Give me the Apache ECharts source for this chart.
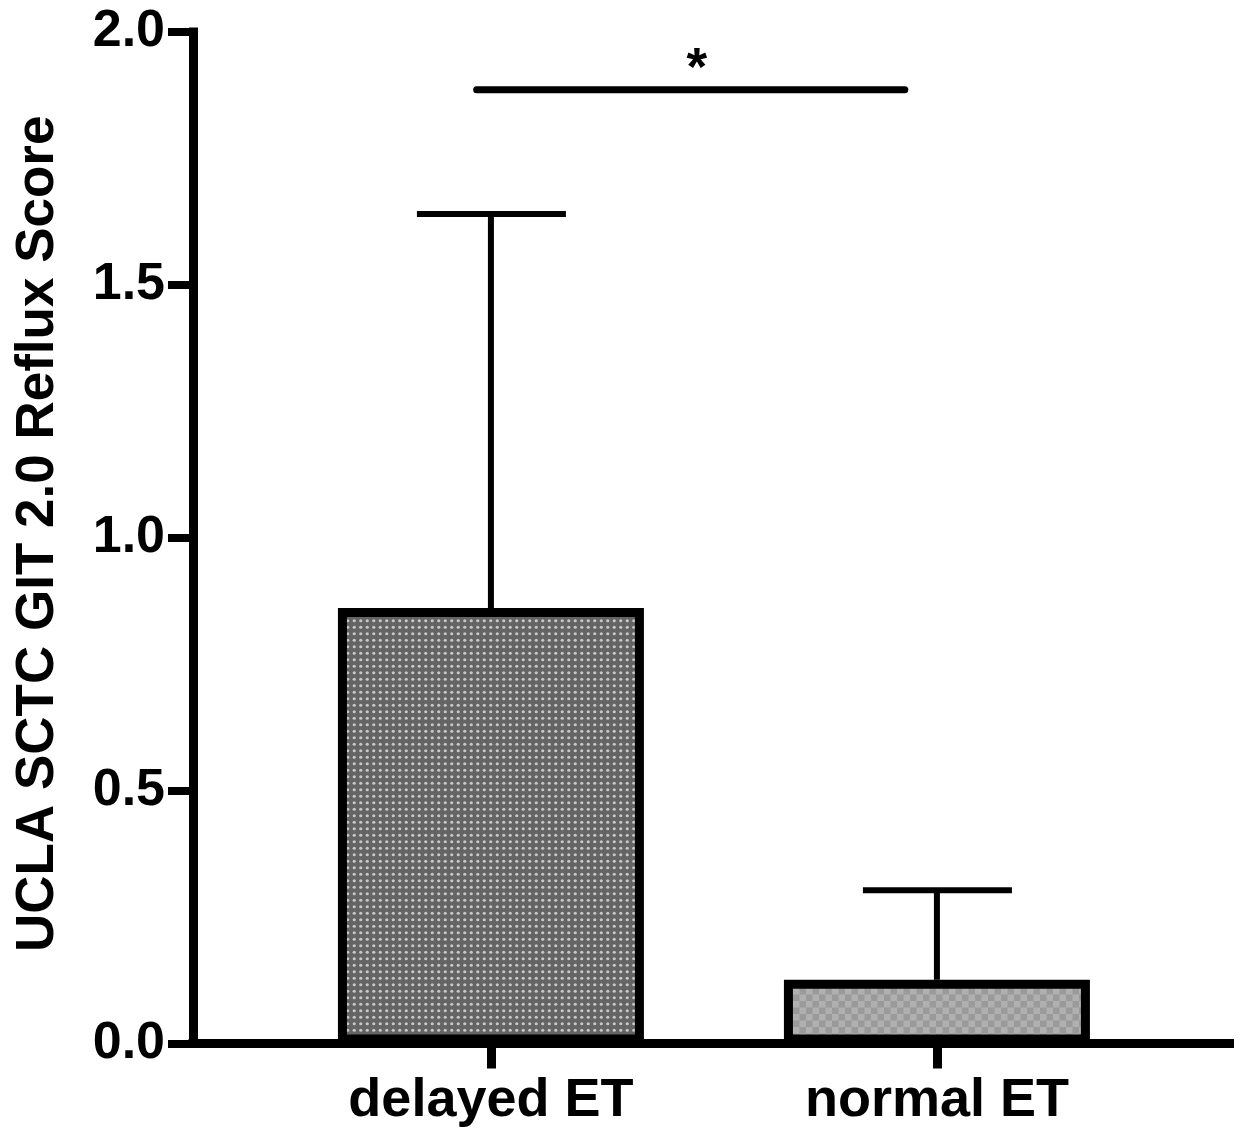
<!DOCTYPE html>
<html>
<head>
<meta charset="UTF-8">
<title>UCLA SCTC GIT 2.0 Reflux Score</title>
<script src="https://cdn.jsdelivr.net/npm/echarts@6/dist/echarts.min.js"></script>
<style>
html,body{margin:0;padding:0;background:#fff;}
#chart{width:1246px;height:1135px;}
</style>
</head>
<body>
<div id="chart"></div>
<script>
// data
var categories = ['delayed ET', 'normal ET'];
var positions = [1, 2];
var means = [0.861, 0.126];
var sds = [0.779, 0.177];
var yTicks = [0, 0.5, 1.0, 1.5, 2.0];
var sigFrom = 0.968, sigTo = 1.928, sigY = 1.886, sigMark = '*';

// small repeating fills like the prism hatching
function dotPattern() {
    var c = document.createElement('canvas');
    c.width = 13; c.height = 13;
    var g = c.getContext('2d');
    g.fillStyle = '#646464';
    g.fillRect(0, 0, 13, 13);
    g.fillStyle = '#c8c8c8';
    [[3.25, 3.25], [9.75, 3.25], [3.25, 9.75], [9.75, 9.75]].forEach(function (p) {
        g.beginPath();
        g.arc(p[0], p[1], 1.6, 0, Math.PI * 2);
        g.fill();
    });
    return c;
}
function checkPattern() {
    var c = document.createElement('canvas');
    c.width = 13; c.height = 13;
    var g = c.getContext('2d');
    g.fillStyle = '#9a9a9a';
    g.fillRect(0, 0, 13, 13);
    g.fillStyle = '#b0b0b0';
    g.fillRect(0, 0, 6.5, 6.5);
    g.fillRect(6.5, 6.5, 6.5, 6.5);
    return c;
}
var fills = [
    { image: dotPattern(), repeat: 'repeat' },
    { image: checkPattern(), repeat: 'repeat' }
];

var barData = positions.map(function (x, i) {
    return { value: [x, means[i]], itemStyle: { color: fills[i] } };
});
var errData = positions.map(function (x, i) {
    return [x, means[i], sds[i]];
});

var font = 'Liberation Sans, Arial, Helvetica, sans-serif';
var myChart = echarts.init(document.getElementById('chart'));

var option = {
    animation: false,
    backgroundColor: '#fff',
    grid: { left: 193, right: 16.5, top: 32, bottom: 91.5 },
    xAxis: {
        type: 'value',
        min: 0.332,
        max: 2.656,
        splitLine: { show: false },
        axisLine: { show: true, lineStyle: { color: '#000', width: 9, cap: 'square' } },
        axisTick: { show: true, length: 25, customValues: positions, lineStyle: { color: '#000', width: 9 } },
        axisLabel: {
            customValues: positions,
            margin: 31,
            color: '#000',
            fontFamily: font,
            fontWeight: 'bold',
            fontSize: 54,
            formatter: function (v) { return categories[Math.round(v) - 1]; }
        }
    },
    yAxis: {
        type: 'value',
        min: yTicks[0],
        max: yTicks[yTicks.length - 1],
        interval: 0.5,
        name: 'UCLA SCTC GIT 2.0 Reflux Score',
        nameLocation: 'middle',
        nameRotate: 90,
        nameGap: 128,
        nameTextStyle: { color: '#000', fontFamily: font, fontWeight: 'bold', fontSize: 53, padding: [0, 0, 0, 8] },
        splitLine: { show: false },
        axisLine: { show: true, lineStyle: { color: '#000', width: 9, cap: 'square' } },
        axisTick: { show: true, length: 25, lineStyle: { color: '#000', width: 8 } },
        axisLabel: {
            margin: 28,
            color: '#000',
            fontFamily: font,
            fontWeight: 'bold',
            fontSize: 52,
            formatter: function (v) { return v.toFixed(1); }
        }
    },
    series: [
        {
            type: 'custom',
            z: 1,
            data: errData,
            renderItem: function (params, api) {
                var x = api.value(0), m = api.value(1), s = api.value(2);
                var base = api.coord([x, m]);
                var top = api.coord([x, m + s]);
                return {
                    type: 'group',
                    children: [
                        { type: 'line', shape: { x1: base[0], y1: base[1], x2: top[0], y2: top[1] },
                          style: { stroke: '#000', lineWidth: 6 } },
                        { type: 'line', shape: { x1: top[0] - 74, y1: top[1], x2: top[0] + 75, y2: top[1] },
                          style: { stroke: '#000', lineWidth: 6 } }
                    ]
                };
            }
        },
        {
            type: 'bar',
            z: 2,
            barWidth: 306,
            data: barData,
            itemStyle: { borderColor: '#000', borderWidth: 9 }
        },
        {
            type: 'custom',
            z: 3,
            data: [[sigFrom, sigTo, sigY]],
            renderItem: function (params, api) {
                var a = api.coord([api.value(0), api.value(2)]);
                var b = api.coord([api.value(1), api.value(2)]);
                return {
                    type: 'group',
                    children: [
                        { type: 'line', shape: { x1: a[0], y1: a[1], x2: b[0], y2: b[1] },
                          style: { stroke: '#000', lineWidth: 7, lineCap: 'round' } },
                        { type: 'text', x: (a[0] + b[0]) / 2 + 6, y: a[1] - 19,
                          style: { text: sigMark, fill: '#000', font: 'bold 53px ' + font,
                                   textAlign: 'center', textVerticalAlign: 'middle' } }
                    ]
                };
            }
        }
    ]
};

myChart.setOption(option);
</script>
</body>
</html>
